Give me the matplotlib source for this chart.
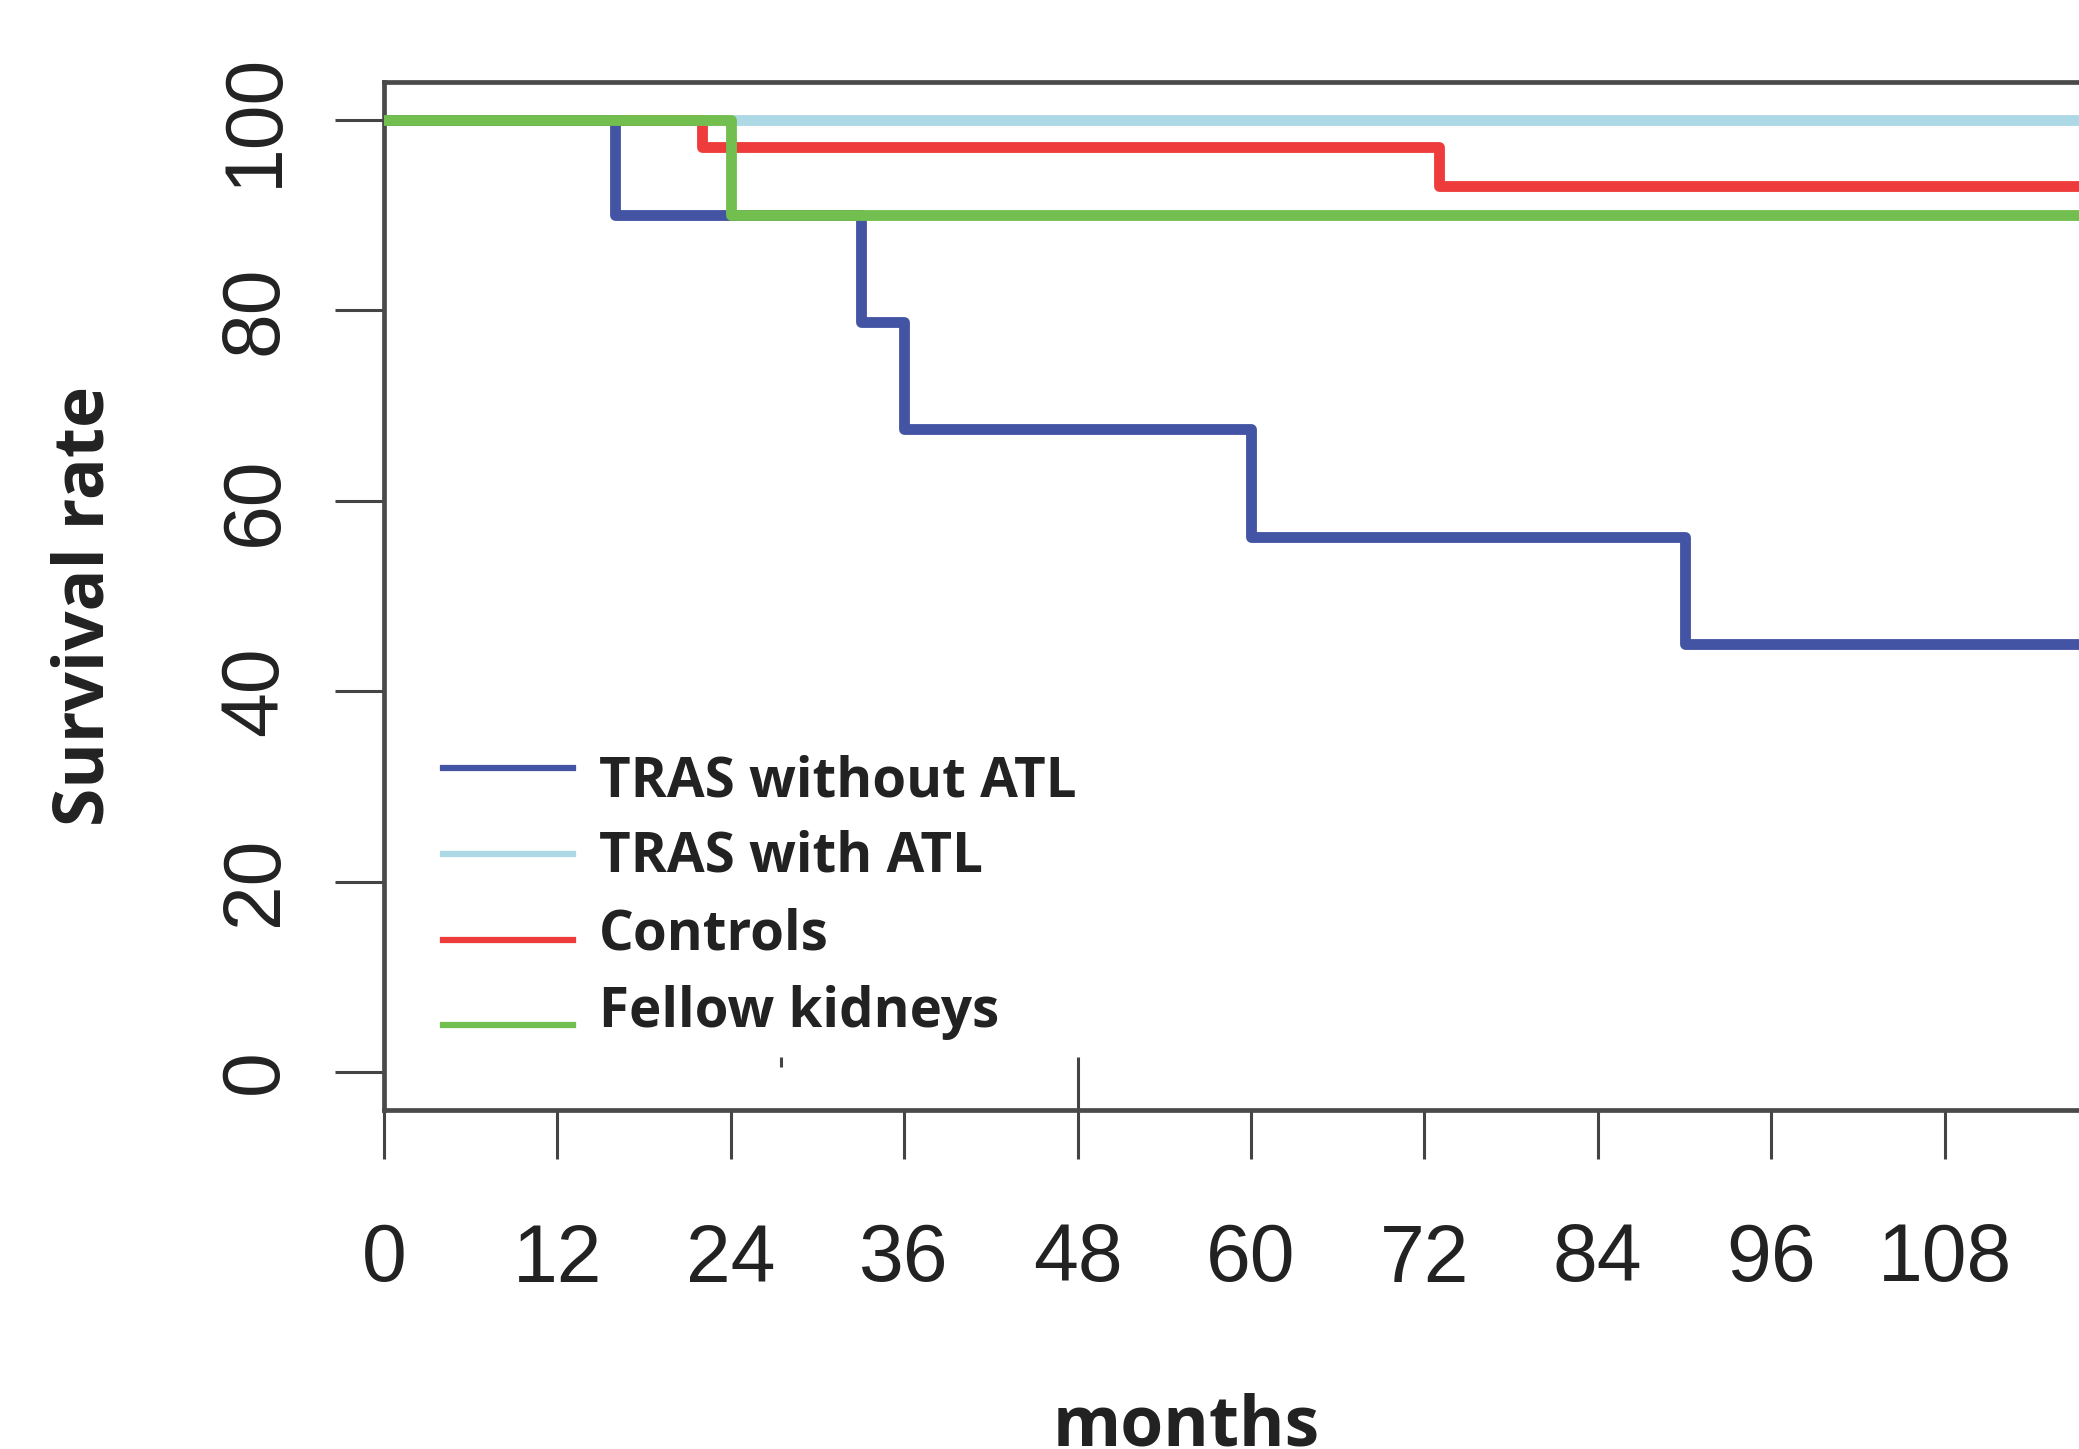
import matplotlib
matplotlib.use('Agg')
import matplotlib.pyplot as plt
from matplotlib.lines import Line2D

# Kaplan-Meier style survival curves (percent), step after each event
months_end = 120

tras_no_atl_t = [0, 16, 33, 36, 60, 90, months_end]
tras_no_atl_s = [100, 90, 78.75, 67.5, 56.25, 45, 45]

tras_atl_t = [0, months_end]
tras_atl_s = [100, 100]

controls_t = [0, 22, 73, months_end]
controls_s = [100, 97.2, 93.1, 93.1]

fellow_t = [0, 24, months_end]
fellow_s = [100, 90, 90]

labels = ['TRAS without ATL', 'TRAS with ATL', 'Controls', 'Fellow kidneys']
colors = ['#4454a4', '#add8e6', '#ee3b3b', '#72bf4f']

x_ticks = list(range(0, 109, 12))
y_ticks = [0, 20, 40, 60, 80, 100]

W, H = 2079, 1449
fig = plt.figure(figsize=(W / 100, H / 100), dpi=100)

# axes box runs past the right edge, the source picture is cropped there
ax = fig.add_axes([384 / W, 1 - 1110 / H, 1734 / W, 1028 / H])
ax.set_xlim(0, months_end)
ax.set_ylim(-4, 104)

series = [
    (tras_no_atl_t, tras_no_atl_s),
    (tras_atl_t, tras_atl_s),
    (controls_t, controls_s),
    (fellow_t, fellow_s),
]
# light blue first, green on top
for i in [1, 2, 0, 3]:
    t, s = series[i]
    ax.step(t, s, where='post', color=colors[i], lw=7.8,
            solid_joinstyle='round', zorder=3)

for side in ['top', 'bottom', 'left', 'right']:
    ax.spines[side].set_color('#4a4a4a')
    ax.spines[side].set_linewidth(3.4)

tick_font = {'family': ['Liberation Sans', 'DejaVu Sans'], 'size': 58}
ax.set_xticks(x_ticks)
ax.set_xticklabels([str(v) for v in x_ticks], fontdict=tick_font, color='#222222')
ax.set_yticks(y_ticks)
ax.set_yticklabels([str(v) for v in y_ticks], fontdict=tick_font, color='#222222',
                   rotation=90, va='center')
ax.tick_params(axis='x', length=35, width=2.2, color='#444444', pad=46)
ax.tick_params(axis='y', length=35, width=2.2, color='#444444', pad=30)

# stray marks in the source scan near the bottom axis
ax.vlines([48], -4, 1.6, color='#444444', lw=2.2, clip_on=False)
ax.vlines([27.5], 0.5, 1.6, color='#444444', lw=2.2)

label_font = ['Open Sans', 'DejaVu Sans']
fig.text(86 / W, 1 - 606 / H, 'Survival rate', rotation=90, ha='center',
         va='center', family=label_font, weight='bold', size=50, color='#222222')
fig.text(1186 / W, 1 - 1446 / H, 'months', ha='center', va='baseline',
         family=label_font, weight='bold', size=50, color='#222222')

# legend drawn by hand to sit exactly where the source has it
line_y = [768, 854, 940, 1025]
text_base = [797, 872, 949, 1027]
for lab, col, ly, tb in zip(labels, colors, line_y, text_base):
    fig.add_artist(Line2D([443 / W, 573 / W], [1 - ly / H, 1 - ly / H],
                          color=col, lw=4.5, transform=fig.transFigure))
    fig.text(599 / W, 1 - tb / H, lab, ha='left', va='baseline',
             family=label_font, weight='bold', size=39.4, color='#222222')

fig.savefig('out.png', dpi=100)
